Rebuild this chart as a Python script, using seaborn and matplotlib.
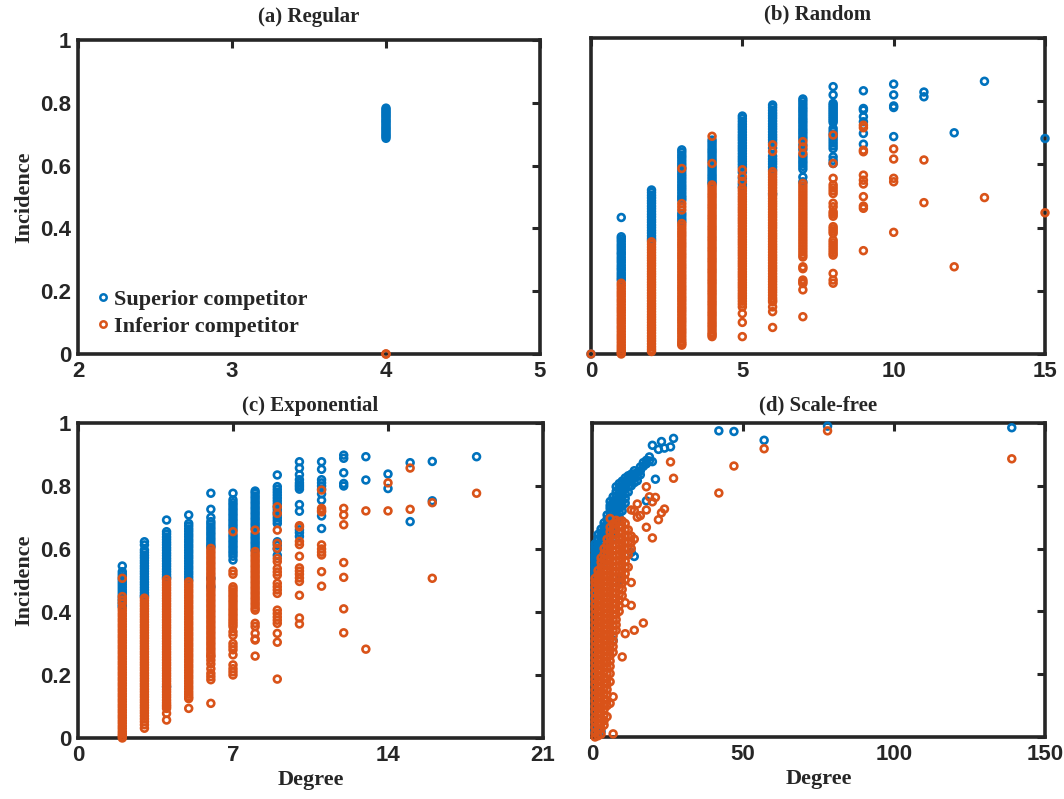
import matplotlib
matplotlib.use("Agg")
import matplotlib.pyplot as plt
from matplotlib.lines import Line2D
import pandas as pd
import seaborn as sns

SUP_COLOR = "#0072BD"
INF_COLOR = "#D95319"
SUP_NAME = "Superior competitor"
INF_NAME = "Inferior competitor"

# ---------------- (a) Regular network (every node has degree 4)
regular_degree = [4]
regular_superior = [
    [0.687, 0.693, 0.698, 0.704, 0.71, 0.716, 0.721, 0.727, 0.733, 0.739,
     0.744, 0.75, 0.756, 0.761, 0.767, 0.772, 0.778, 0.783],
]
regular_inferior = [[0.0, 0.0]]

# ---------------- (b) Random network
random_degree = [0, 1, 2, 3, 4, 5, 6, 7, 8, 9, 10, 11, 12, 13, 15]
random_superior = [
    [0.0],
    [0.432, 0.371, 0.364, 0.356, 0.347, 0.339, 0.331, 0.322, 0.315, 0.306,
     0.298, 0.29, 0.281, 0.273, 0.266, 0.257, 0.249, 0.241, 0.234],
    [0.519, 0.511, 0.502, 0.494, 0.485, 0.477, 0.468, 0.46, 0.451, 0.442,
     0.434, 0.425, 0.417, 0.408, 0.4, 0.391, 0.383, 0.374, 0.366, 0.36],
    [0.646, 0.638, 0.629, 0.621, 0.612, 0.603, 0.595, 0.587, 0.578, 0.569,
     0.561, 0.553, 0.544, 0.535, 0.527, 0.519, 0.51, 0.501, 0.494, 0.487,
     0.445, 0.437, 0.428, 0.42],
    [0.677, 0.669, 0.66, 0.651, 0.643, 0.635, 0.626, 0.617, 0.609, 0.595,
     0.587, 0.578, 0.569, 0.561, 0.553, 0.545, 0.54],
    [0.753, 0.745, 0.736, 0.727, 0.719, 0.711, 0.702, 0.693, 0.685, 0.677,
     0.668, 0.659, 0.651, 0.643, 0.634, 0.625, 0.617, 0.609, 0.6, 0.591,
     0.575, 0.556, 0.538, 0.529],
    [0.788, 0.78, 0.771, 0.762, 0.754, 0.746, 0.737, 0.728, 0.72, 0.712,
     0.703, 0.694, 0.686, 0.678, 0.669, 0.652, 0.626, 0.617, 0.609, 0.601,
     0.592, 0.583, 0.506],
    [0.807, 0.799, 0.79, 0.781, 0.773, 0.765, 0.756, 0.747, 0.739, 0.731,
     0.722, 0.713, 0.705, 0.697, 0.688, 0.68, 0.662, 0.647, 0.628, 0.62,
     0.611, 0.603, 0.594, 0.585, 0.56, 0.545],
    [0.846, 0.82, 0.793, 0.787, 0.781, 0.775, 0.769, 0.763, 0.757, 0.751,
     0.745, 0.739, 0.733, 0.714, 0.705, 0.696, 0.686, 0.677, 0.668, 0.659,
     0.65, 0.624, 0.613, 0.603],
    [0.833, 0.777, 0.772, 0.751, 0.735, 0.698, 0.664],
    [0.854, 0.82, 0.785, 0.78, 0.688],
    [0.829, 0.814],
    [0.70],
    [0.863],
    [0.682],
]
random_inferior = [
    [0.0],
    [0.224, 0.216, 0.207, 0.198, 0.19, 0.182, 0.173, 0.165, 0.156, 0.147,
     0.139, 0.131, 0.122, 0.113, 0.105, 0.097, 0.088, 0.08, 0.071, 0.062,
     0.054, 0.046, 0.037, 0.028, 0.02, 0.012, 0.005, 0.0],
    [0.355, 0.347, 0.338, 0.33, 0.321, 0.312, 0.304, 0.296, 0.287, 0.279,
     0.27, 0.261, 0.253, 0.245, 0.236, 0.227, 0.219, 0.211, 0.202, 0.193,
     0.185, 0.177, 0.168, 0.159, 0.151, 0.143, 0.134, 0.125, 0.117, 0.109,
     0.1, 0.091, 0.083, 0.075, 0.066, 0.057, 0.049, 0.041, 0.032, 0.023,
     0.015, 0.008],
    [0.587, 0.476, 0.466, 0.456, 0.413, 0.405, 0.396, 0.387, 0.379, 0.371,
     0.362, 0.353, 0.345, 0.337, 0.328, 0.319, 0.311, 0.303, 0.294, 0.285,
     0.277, 0.269, 0.26, 0.251, 0.243, 0.235, 0.226, 0.217, 0.209, 0.201,
     0.192, 0.183, 0.175, 0.167, 0.158, 0.149, 0.141, 0.133, 0.124, 0.115,
     0.107, 0.099, 0.09, 0.081, 0.073, 0.065, 0.056, 0.047, 0.039, 0.033,
     0.028],
    [0.689, 0.603, 0.535, 0.527, 0.518, 0.509, 0.501, 0.493, 0.484, 0.475,
     0.467, 0.459, 0.45, 0.441, 0.433, 0.425, 0.416, 0.407, 0.399, 0.391,
     0.382, 0.373, 0.365, 0.357, 0.348, 0.339, 0.331, 0.323, 0.314, 0.305,
     0.297, 0.289, 0.28, 0.271, 0.263, 0.255, 0.246, 0.237, 0.229, 0.221,
     0.212, 0.203, 0.195, 0.187, 0.178, 0.169, 0.161, 0.153, 0.144, 0.135,
     0.127, 0.119, 0.11, 0.101, 0.093, 0.085, 0.076, 0.067, 0.061, 0.055],
    [0.583, 0.562, 0.546, 0.524, 0.516, 0.507, 0.498, 0.49, 0.482, 0.473,
     0.464, 0.456, 0.448, 0.439, 0.43, 0.422, 0.414, 0.405, 0.396, 0.388,
     0.38, 0.371, 0.362, 0.354, 0.346, 0.337, 0.328, 0.32, 0.312, 0.303,
     0.294, 0.286, 0.278, 0.269, 0.26, 0.252, 0.244, 0.235, 0.226, 0.218,
     0.21, 0.201, 0.192, 0.184, 0.176, 0.167, 0.158, 0.149, 0.128, 0.1,
     0.055],
    [0.662, 0.641, 0.577, 0.569, 0.56, 0.551, 0.543, 0.535, 0.526, 0.517,
     0.509, 0.501, 0.492, 0.483, 0.475, 0.467, 0.458, 0.449, 0.441, 0.433,
     0.424, 0.415, 0.407, 0.399, 0.39, 0.381, 0.373, 0.365, 0.356, 0.347,
     0.339, 0.331, 0.322, 0.313, 0.305, 0.297, 0.288, 0.279, 0.271, 0.263,
     0.254, 0.245, 0.237, 0.229, 0.22, 0.211, 0.203, 0.195, 0.186, 0.177,
     0.17, 0.165, 0.149, 0.134, 0.084],
    [0.672, 0.655, 0.635, 0.54, 0.531, 0.522, 0.513, 0.504, 0.495, 0.486,
     0.477, 0.468, 0.459, 0.45, 0.441, 0.432, 0.423, 0.414, 0.405, 0.396,
     0.387, 0.378, 0.369, 0.36, 0.351, 0.342, 0.333, 0.324, 0.315, 0.307,
     0.276, 0.27, 0.234, 0.228, 0.223, 0.203, 0.118],
    [0.693, 0.603, 0.556, 0.535, 0.526, 0.517, 0.508, 0.477, 0.466, 0.45,
     0.443, 0.436, 0.403, 0.396, 0.389, 0.382, 0.36, 0.352, 0.344, 0.336,
     0.328, 0.32, 0.313, 0.255, 0.234, 0.224],
    [0.724, 0.716, 0.645, 0.64, 0.566, 0.55, 0.538, 0.498, 0.468, 0.461,
     0.327],
    [0.649, 0.617, 0.556, 0.545, 0.385],
    [0.614, 0.479],
    [0.276],
    [0.495],
    [0.447],
]

# ---------------- (c) Exponential network
expo_degree = [2, 3, 4, 5, 6, 7, 8, 9, 10, 11, 12, 13, 14, 15, 16, 18]
expo_superior = [
    [0.546, 0.528, 0.52, 0.512, 0.503, 0.495, 0.487, 0.479, 0.471, 0.463,
     0.455, 0.446, 0.438, 0.43, 0.422, 0.417],
    [0.623, 0.613, 0.597, 0.589, 0.58, 0.572, 0.563, 0.555, 0.546, 0.538,
     0.529, 0.521, 0.512, 0.504, 0.495, 0.487, 0.478, 0.47, 0.461, 0.453,
     0.449],
    [0.692, 0.655, 0.647, 0.638, 0.63, 0.621, 0.613, 0.604, 0.596, 0.587,
     0.579, 0.57, 0.562, 0.553, 0.545, 0.536, 0.528, 0.519, 0.511, 0.507,
     0.163],
    [0.708, 0.681, 0.673, 0.664, 0.656, 0.647, 0.639, 0.63, 0.622, 0.613,
     0.605, 0.596, 0.588, 0.579, 0.571, 0.562, 0.554, 0.545, 0.537, 0.528,
     0.52, 0.511, 0.502],
    [0.777, 0.726, 0.70, 0.687, 0.679, 0.67, 0.662, 0.653, 0.645, 0.636,
     0.628, 0.619, 0.611, 0.607, 0.507, 0.48],
    [0.777, 0.756, 0.747, 0.739, 0.73, 0.722, 0.713, 0.705, 0.696, 0.688,
     0.679, 0.671, 0.662, 0.645, 0.637, 0.628, 0.62, 0.611, 0.603, 0.594,
     0.586, 0.577, 0.565],
    [0.784, 0.777, 0.768, 0.76, 0.751, 0.743, 0.734, 0.726, 0.717, 0.709,
     0.7, 0.692, 0.683, 0.675, 0.666, 0.649, 0.64, 0.632, 0.623, 0.615,
     0.606, 0.597],
    [0.835, 0.798, 0.789, 0.78, 0.771, 0.762, 0.753, 0.744, 0.735, 0.726,
     0.717, 0.708, 0.699, 0.69, 0.681, 0.623, 0.612, 0.6, 0.58],
    [0.877, 0.857, 0.836, 0.82, 0.81, 0.803, 0.797, 0.79, 0.741, 0.72,
     0.661, 0.652, 0.64],
    [0.877, 0.853, 0.82, 0.81, 0.8, 0.79, 0.775, 0.755, 0.705, 0.665],
    [0.898, 0.888, 0.842, 0.808, 0.8],
    [0.893, 0.819],
    [0.838, 0.792],
    [0.874, 0.687],
    [0.878, 0.753],
    [0.893],
]
expo_inferior = [
    [0.507, 0.449, 0.438, 0.428, 0.412, 0.404, 0.395, 0.387, 0.378, 0.37,
     0.361, 0.353, 0.344, 0.336, 0.327, 0.319, 0.31, 0.302, 0.293, 0.285,
     0.276, 0.268, 0.259, 0.251, 0.242, 0.234, 0.225, 0.217, 0.208, 0.2,
     0.191, 0.183, 0.174, 0.166, 0.157, 0.149, 0.14, 0.132, 0.123, 0.115,
     0.106, 0.098, 0.089, 0.081, 0.072, 0.064, 0.055, 0.047, 0.038, 0.03,
     0.021, 0.013, 0.006, 0.0],
    [0.444, 0.436, 0.427, 0.419, 0.41, 0.402, 0.393, 0.385, 0.376, 0.368,
     0.359, 0.351, 0.342, 0.334, 0.325, 0.317, 0.308, 0.3, 0.291, 0.283,
     0.274, 0.266, 0.257, 0.249, 0.24, 0.232, 0.223, 0.215, 0.206, 0.198,
     0.189, 0.181, 0.172, 0.164, 0.155, 0.147, 0.138, 0.13, 0.121, 0.113,
     0.104, 0.096, 0.087, 0.079, 0.07, 0.061, 0.052, 0.042, 0.031],
    [0.503, 0.494, 0.486, 0.477, 0.469, 0.46, 0.452, 0.443, 0.435, 0.426,
     0.418, 0.409, 0.401, 0.392, 0.384, 0.375, 0.367, 0.358, 0.35, 0.341,
     0.333, 0.324, 0.316, 0.307, 0.299, 0.29, 0.282, 0.273, 0.265, 0.256,
     0.248, 0.239, 0.231, 0.222, 0.214, 0.205, 0.197, 0.188, 0.18, 0.171,
     0.163, 0.154, 0.146, 0.137, 0.129, 0.12, 0.112, 0.105, 0.1, 0.094,
     0.078, 0.057],
    [0.496, 0.487, 0.479, 0.47, 0.462, 0.453, 0.445, 0.436, 0.428, 0.419,
     0.411, 0.402, 0.394, 0.385, 0.377, 0.368, 0.36, 0.351, 0.343, 0.334,
     0.326, 0.317, 0.309, 0.3, 0.292, 0.283, 0.275, 0.266, 0.258, 0.249,
     0.241, 0.232, 0.224, 0.215, 0.207, 0.198, 0.19, 0.181, 0.173, 0.164,
     0.156, 0.147, 0.139, 0.131, 0.125, 0.094],
    [0.602, 0.593, 0.585, 0.576, 0.568, 0.559, 0.551, 0.542, 0.534, 0.525,
     0.517, 0.508, 0.5, 0.491, 0.483, 0.474, 0.466, 0.457, 0.449, 0.44,
     0.432, 0.423, 0.415, 0.406, 0.398, 0.389, 0.381, 0.372, 0.364, 0.355,
     0.347, 0.338, 0.33, 0.321, 0.313, 0.304, 0.296, 0.287, 0.279, 0.27,
     0.262, 0.258, 0.247, 0.235, 0.22, 0.205, 0.195, 0.185, 0.11],
    [0.655, 0.53, 0.52, 0.48, 0.472, 0.464, 0.455, 0.447, 0.438, 0.43,
     0.421, 0.412, 0.404, 0.395, 0.387, 0.378, 0.37, 0.362, 0.354, 0.337,
     0.326, 0.3, 0.29, 0.28, 0.264, 0.232, 0.22, 0.21, 0.2],
    [0.66, 0.592, 0.583, 0.575, 0.566, 0.558, 0.549, 0.541, 0.532, 0.524,
     0.515, 0.507, 0.498, 0.49, 0.481, 0.473, 0.464, 0.456, 0.447, 0.439,
     0.43, 0.422, 0.413, 0.406, 0.364, 0.354, 0.332, 0.314, 0.311, 0.26],
    [0.734, 0.713, 0.66, 0.618, 0.602, 0.57, 0.56, 0.538, 0.527, 0.517,
     0.491, 0.48, 0.47, 0.459, 0.406, 0.395, 0.384, 0.374, 0.364, 0.332,
     0.304, 0.187],
    [0.674, 0.67, 0.624, 0.614, 0.577, 0.54, 0.53, 0.52, 0.508, 0.497,
     0.453, 0.381, 0.362],
    [0.787, 0.729, 0.722, 0.718, 0.613, 0.6, 0.59, 0.581, 0.528, 0.482],
    [0.729, 0.708, 0.677, 0.557, 0.51, 0.41, 0.334],
    [0.721, 0.282],
    [0.81, 0.721],
    [0.857, 0.726],
    [0.747, 0.507],
    [0.777],
]

# ---------------- (d) Scale-free network
scalefree_degree = [1, 2, 3, 4, 5, 6, 7, 8, 9, 10, 11, 12, 13, 14, 15, 16,
                    17, 18, 19, 20, 21, 22, 23, 24, 26, 27, 42, 47, 57, 78,
                    139]
scalefree_superior = [
    [0.017, 0.43, 0.45, 0.47, 0.49, 0.509, 0.52, 0.53, 0.541, 0.55, 0.562,
     0.57, 0.58, 0.594, 0.605, 0.615],
    [0.5, 0.52, 0.535, 0.55, 0.565, 0.583, 0.6, 0.615, 0.631, 0.645],
    [0.017, 0.54, 0.551, 0.565, 0.58, 0.592, 0.604, 0.62, 0.636, 0.65,
     0.662],
    [0.575, 0.59, 0.605, 0.62, 0.635, 0.647, 0.657, 0.67, 0.682],
    [0.6, 0.615, 0.63, 0.645, 0.655, 0.668, 0.68, 0.694, 0.707],
    [0.625, 0.64, 0.655, 0.67, 0.685, 0.7, 0.715, 0.728, 0.737, 0.75],
    [0.308, 0.655, 0.67, 0.685, 0.7, 0.715, 0.73, 0.742, 0.752, 0.765],
    [0.68, 0.695, 0.71, 0.726, 0.74, 0.755, 0.768, 0.782, 0.797],
    [0.5, 0.7, 0.715, 0.73, 0.742, 0.755, 0.767, 0.779, 0.795, 0.807],
    [0.72, 0.735, 0.75, 0.768, 0.782, 0.795, 0.805, 0.815],
    [0.745, 0.76, 0.775, 0.789, 0.8, 0.812, 0.825],
    [0.78, 0.797, 0.811, 0.822, 0.832],
    [0.588, 0.8, 0.816, 0.826, 0.837],
    [0.575, 0.81, 0.826, 0.838, 0.848],
    [0.816, 0.83, 0.842],
    [0.835, 0.848, 0.86],
    [0.862, 0.874],
    [0.752, 0.87, 0.881],
    [0.879, 0.892],
    [0.877, 0.929],
    [0.821],
    [0.916],
    [0.941],
    [0.92],
    [0.924],
    [0.951],
    [0.975],
    [0.973],
    [0.945],
    [0.99],
    [0.985],
]
scalefree_inferior = [
    [0.0, 0.013, 0.031, 0.048, 0.062, 0.081, 0.097, 0.115, 0.132, 0.149,
     0.168, 0.183, 0.201, 0.219, 0.236, 0.252, 0.27, 0.287, 0.305, 0.321,
     0.338, 0.356, 0.373, 0.39, 0.408, 0.424, 0.441, 0.459, 0.476, 0.492,
     0.505],
    [0.004, 0.022, 0.04, 0.057, 0.073, 0.09, 0.107, 0.124, 0.141, 0.158,
     0.176, 0.192, 0.21, 0.227, 0.244, 0.261, 0.278, 0.295, 0.312, 0.329,
     0.346, 0.364, 0.381, 0.398, 0.415, 0.432, 0.45, 0.467, 0.484, 0.501,
     0.517, 0.53],
    [0.009, 0.027, 0.044, 0.06, 0.078, 0.095, 0.112, 0.129, 0.146, 0.163,
     0.18, 0.197, 0.215, 0.232, 0.249, 0.266, 0.283, 0.3, 0.317, 0.335,
     0.352, 0.369, 0.386, 0.403, 0.42, 0.437, 0.455, 0.472, 0.489, 0.506,
     0.523, 0.54, 0.556, 0.57],
    [0.038, 0.052, 0.07, 0.087, 0.104, 0.121, 0.138, 0.155, 0.172, 0.19,
     0.207, 0.224, 0.241, 0.258, 0.275, 0.292, 0.31, 0.327, 0.344, 0.361,
     0.378, 0.395, 0.412, 0.43, 0.447, 0.464, 0.481, 0.498, 0.515, 0.532,
     0.55, 0.567, 0.584, 0.6],
    [0.065, 0.1, 0.117, 0.134, 0.151, 0.168, 0.185, 0.202, 0.22, 0.237,
     0.254, 0.271, 0.288, 0.305, 0.322, 0.34, 0.357, 0.374, 0.391, 0.408,
     0.425, 0.442, 0.46, 0.477, 0.494, 0.511, 0.528, 0.545, 0.562, 0.58,
     0.597, 0.613, 0.63],
    [0.107, 0.176, 0.202, 0.225, 0.242, 0.259, 0.276, 0.293, 0.31, 0.328,
     0.345, 0.362, 0.379, 0.396, 0.413, 0.43, 0.448, 0.465, 0.482, 0.499,
     0.516, 0.533, 0.55, 0.568, 0.585, 0.602, 0.619, 0.636, 0.653, 0.668,
     0.696],
    [0.01, 0.128, 0.27, 0.288, 0.305, 0.322, 0.339, 0.356, 0.373, 0.39,
     0.407, 0.424, 0.441, 0.458, 0.475, 0.492, 0.509, 0.526, 0.543, 0.56,
     0.577, 0.594, 0.611, 0.628, 0.645, 0.662, 0.678],
    [0.34, 0.357, 0.374, 0.391, 0.408, 0.425, 0.442, 0.459, 0.476, 0.493,
     0.51, 0.527, 0.544, 0.561, 0.578, 0.595, 0.612, 0.629, 0.646, 0.663,
     0.68, 0.69],
    [0.4, 0.418, 0.436, 0.454, 0.472, 0.49, 0.508, 0.526, 0.544, 0.562,
     0.58, 0.598, 0.616, 0.634, 0.652, 0.67, 0.686],
    [0.255, 0.45, 0.47, 0.49, 0.51, 0.53, 0.55, 0.57, 0.59, 0.61, 0.63,
     0.65, 0.67, 0.688],
    [0.329, 0.428, 0.5, 0.52, 0.541, 0.56, 0.58, 0.6, 0.62, 0.64, 0.66,
     0.68],
    [0.541, 0.58, 0.6, 0.62, 0.64, 0.66],
    [0.419, 0.492, 0.6, 0.62, 0.64, 0.723],
    [0.34, 0.63, 0.721],
    [0.742, 0.7],
    [0.705],
    [0.363],
    [0.797, 0.723, 0.668],
    [0.765],
    [0.749, 0.634],
    [0.763],
    [0.692],
    [0.714],
    [0.726],
    [0.876],
    [0.824],
    [0.777],
    [0.863],
    [0.918],
    [0.975],
    [0.886],
]


def long_table(degrees, superior, inferior):
    rows = []
    for d, s_vals, i_vals in zip(degrees, superior, inferior):
        rows += [(d, v, SUP_NAME) for v in s_vals]
        rows += [(d, v, INF_NAME) for v in i_vals]
    return pd.DataFrame(rows, columns=["Degree", "Incidence", "Competitor"])


sns.set_style("white")
plt.rcParams["font.family"] = ["Liberation Serif", "DejaVu Serif"]

SERIF = "Liberation Serif"
SANS = "Liberation Sans"
SPINE = "#262626"

fig = plt.figure(figsize=(10.64, 7.99), dpi=100)
W, H = 1064, 799


def axes_px(left, top, right, bottom):
    return fig.add_axes([left / W, 1 - bottom / H, (right - left) / W,
                         (bottom - top) / H])


panels = [
    dict(ax=axes_px(78, 40, 540, 354), title="(a) Regular", pad=13,
         data=long_table(regular_degree, regular_superior, regular_inferior),
         xlim=(2, 5), xticks=[2, 3, 4, 5], ylabels=True, xlabel=False),
    dict(ax=axes_px(591, 38, 1045, 354), title="(b) Random", pad=13,
         data=long_table(random_degree, random_superior, random_inferior),
         xlim=(0, 15), xticks=[0, 5, 10, 15], ylabels=False, xlabel=False),
    dict(ax=axes_px(78, 423, 543, 738), title="(c) Exponential", pad=9,
         data=long_table(expo_degree, expo_superior, expo_inferior),
         xlim=(0, 21), xticks=[0, 7, 14, 21], ylabels=True, xlabel=True),
    dict(ax=axes_px(592, 423, 1045, 737), title="(d) Scale-free", pad=9,
         data=long_table(scalefree_degree, scalefree_superior,
                         scalefree_inferior),
         xlim=(0, 150), xticks=[0, 50, 100, 150], ylabels=False,
         xlabel=True),
]

yticks = [0, 0.2, 0.4, 0.6, 0.8, 1]
ytick_text = ["0", "0.2", "0.4", "0.6", "0.8", "1"]

for p in panels:
    ax = p["ax"]
    df = p["data"]
    for name, col in [(SUP_NAME, SUP_COLOR), (INF_NAME, INF_COLOR)]:
        sub = df[df["Competitor"] == name]
        sns.scatterplot(data=sub, x="Degree", y="Incidence", ax=ax,
                        color=col, facecolor="none", edgecolor=col,
                        marker="o", s=24, linewidth=1.9, legend=False,
                        clip_on=False, zorder=3)
    ax.set_xlim(*p["xlim"])
    ax.set_ylim(0, 1)
    ax.set_xticks(p["xticks"])
    ax.set_xticklabels([str(t) for t in p["xticks"]])
    ax.set_yticks(yticks)
    if p["ylabels"]:
        ax.set_yticklabels(ytick_text)
        ax.set_ylabel("Incidence", fontfamily=SERIF, fontweight="bold",
                      fontsize=16, labelpad=4)
    else:
        ax.set_yticklabels([])
        ax.set_ylabel("")
    if p["xlabel"]:
        ax.set_xlabel("Degree", fontfamily=SERIF, fontweight="bold",
                      fontsize=16, labelpad=3)
    else:
        ax.set_xlabel("")
    ax.tick_params(direction="in", length=6, width=2.2, top=True, right=True,
                   color=SPINE, labelsize=16, pad=5)
    for lab in ax.get_xticklabels() + ax.get_yticklabels():
        lab.set_fontfamily(SANS)
        lab.set_fontweight("bold")
        lab.set_color(SPINE)
    for sp in ax.spines.values():
        sp.set_visible(True)
        sp.set_linewidth(2.6)
        sp.set_color(SPINE)
        sp.set_zorder(2.5)
    ax.set_title(p["title"], fontfamily=SERIF, fontweight="bold",
                 fontsize=15, pad=p["pad"])
    ax.grid(False)

# Legend in the regular-network panel
handles = [
    Line2D([], [], linestyle="none", marker="o", markersize=4.6,
           markerfacecolor="none", markeredgecolor=SUP_COLOR,
           markeredgewidth=1.8, label=SUP_NAME),
    Line2D([], [], linestyle="none", marker="o", markersize=4.6,
           markerfacecolor="none", markeredgecolor=INF_COLOR,
           markeredgewidth=1.8, label=INF_NAME),
]
panels[0]["ax"].legend(handles=handles, loc="lower left", frameon=False,
                       prop=dict(family=SERIF, weight="bold", size=16),
                       handlelength=0.6, handletextpad=0.2,
                       borderaxespad=0.2, labelspacing=0.3,
                       bbox_to_anchor=(0.01, 0.012))

fig.savefig("out.png", dpi=100)
